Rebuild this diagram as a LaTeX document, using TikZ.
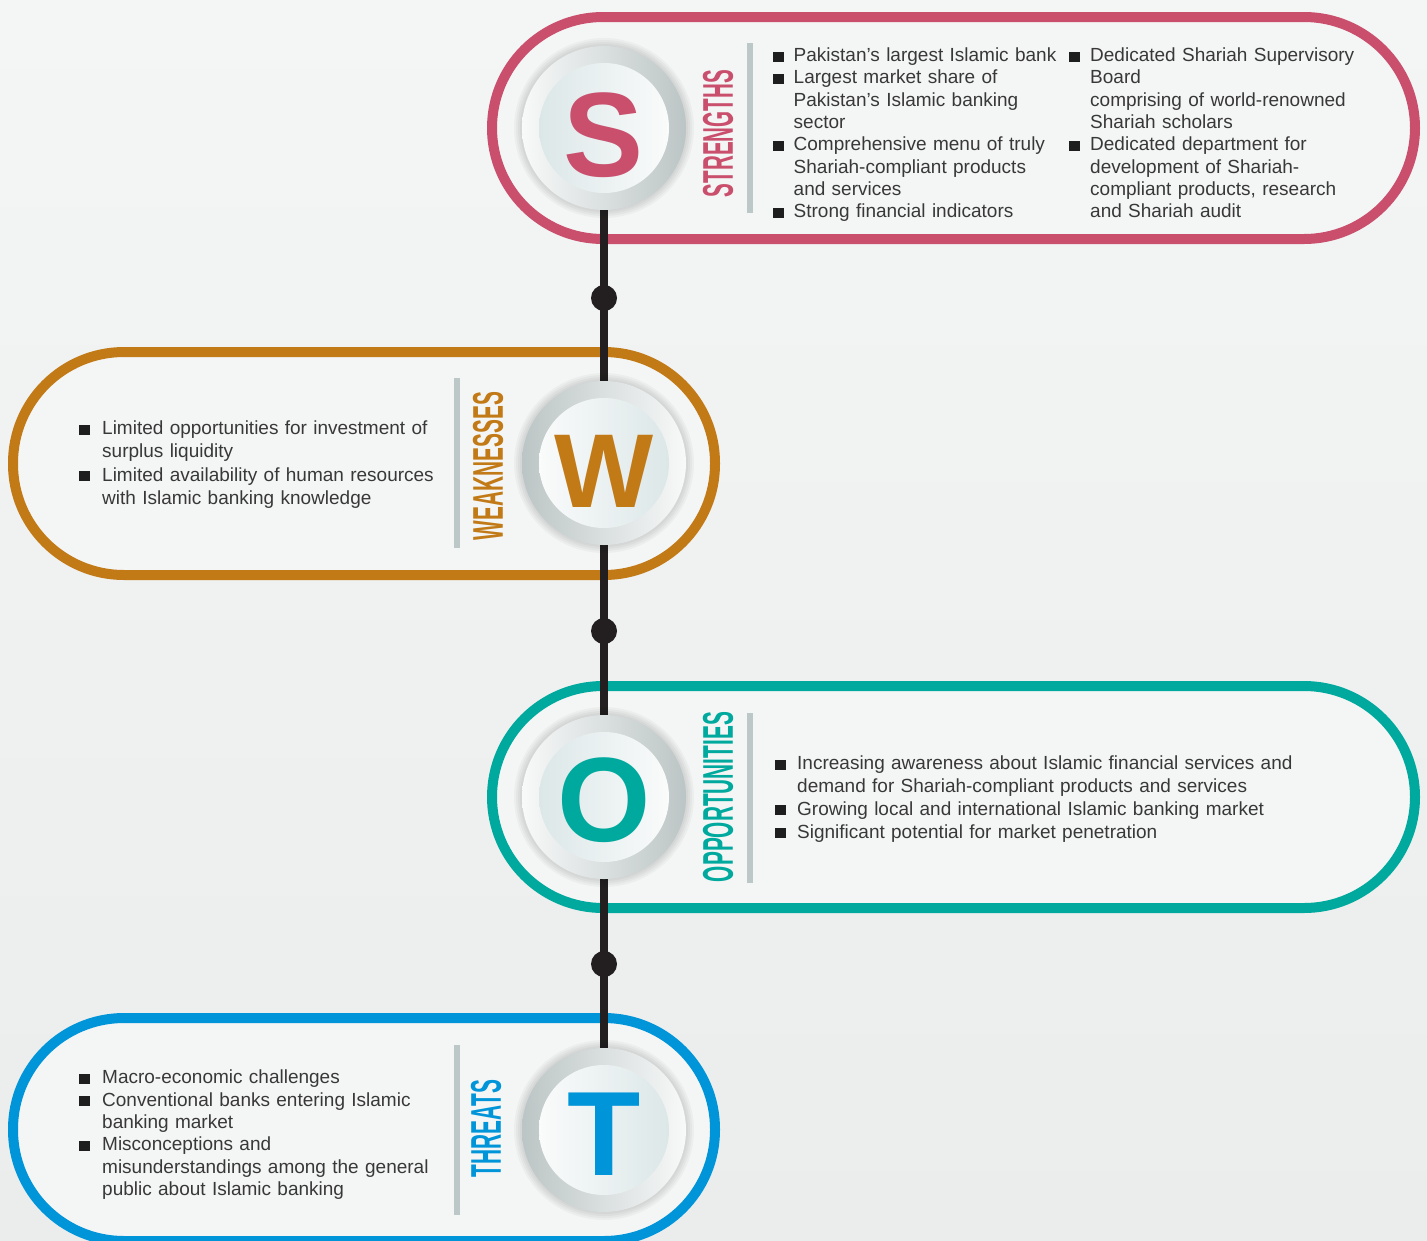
\documentclass[tikz,border=0pt]{standalone}
\usepackage{fontspec}
\setmainfont{Liberation Sans}
\usepackage{graphicx}
\definecolor{colS}{HTML}{C94F6D}
\definecolor{colW}{HTML}{C27A17}
\definecolor{colO}{HTML}{00A99D}
\definecolor{colT}{HTML}{0094D9}
\definecolor{barc}{HTML}{BCC7C7}
\definecolor{linec}{HTML}{231F20}
\definecolor{txt}{HTML}{383838}
\definecolor{bulc}{HTML}{1E1E1E}
\definecolor{bgtop}{HTML}{F4F5F5}
\definecolor{bgbot}{HTML}{EBEDED}
\definecolor{pillfill}{HTML}{F4F5F5}
\definecolor{ringlight}{HTML}{F8F9F9}
\definecolor{ringdark}{HTML}{BCC5C5}
\definecolor{innblue}{HTML}{DCE7E8}
\definecolor{innwhite}{HTML}{FAFBFB}
\newcommand{\bitem}[1]{\par\noindent\hangindent=#1\hangafter=1\makebox[#1][l]{\rule{0pt}{16pt}\textcolor{bulc}{\rule[0pt]{10.5pt}{10pt}}}\ignorespaces}
\tikzset{
  pill/.style={line width=10pt, fill=pillfill, rounded corners=111pt},
  ring/.style={circle, minimum size=164pt, inner sep=0pt},
  inner/.style={circle, minimum size=130pt, inner sep=0pt},
  letter/.style={inner sep=0pt, text depth=0pt, font=\bfseries},
  vlabel/.style={inner sep=0pt, rotate=90, font=\bfseries},
  dotnode/.style={circle, fill=linec, minimum size=26pt, inner sep=0pt},
  txtnode/.style={inner sep=0pt, anchor=north west, align=left, text=txt},
  bar/.style={barc, line width=5.5pt},
}
\begin{document}
\begin{tikzpicture}[x=1pt,y=-1pt]
\useasboundingbox (0,0) rectangle (1427,1240);
\fill[top color=bgtop, bottom color=bgbot] (0,0) rectangle (1427,1240);
% pills
\draw[pill, draw=colS] (492,17) rectangle (1415,239);
\draw[pill, draw=colW] (13,352) rectangle (715,575);
\draw[pill, draw=colO] (492,686) rectangle (1415,908);
\draw[pill, draw=colT] (13,1018) rectangle (715,1241);
% centres
\coordinate (pS) at (604,128);
\coordinate (pW) at (604,463);
\coordinate (pO) at (604,797);
\coordinate (pT) at (604,1130);
% spine
\draw[linec, line width=8pt] (pS) -- (pT);
\node[dotnode] (d1) at (604,298) {};
\node[dotnode] (d2) at (604,631) {};
\node[dotnode] (d3) at (604,964) {};
% shadows
\foreach \p in {pS,pW,pO,pT}{
  \foreach \k in {0,...,7}{
    \fill[black, opacity=0.03, shift={(9,13)}] (\p) circle [radius=76+2*\k];
  }
}
% discs
\node[ring, left color=ringlight, right color=ringdark] (rS) at (pS) {};
\node[inner, left color=innblue, right color=innwhite] (iS) at (pS) {};
\node[ring, left color=ringdark, right color=ringlight] (rW) at (pW) {};
\node[inner, left color=innwhite, right color=innblue] (iW) at (pW) {};
\node[ring, left color=ringlight, right color=ringdark] (rO) at (pO) {};
\node[inner, left color=innblue, right color=innwhite] (iO) at (pO) {};
\node[ring, left color=ringdark, right color=ringlight] (rT) at (pT) {};
\node[inner, left color=innwhite, right color=innblue] (iT) at (pT) {};
% letters
\node[letter, text=colS, text height=86pt, font=\fontsize{120}{120}\selectfont\bfseries] (lS) at (604,133) {S};
\node[letter, text=colW, text height=75pt, font=\fontsize{105}{105}\selectfont\bfseries] (lW) at (604,469.5) {W};
\node[letter, text=colO, text height=86pt, font=\fontsize{120}{120}\selectfont\bfseries] (lO) at (604,798) {O};
\node[letter, text=colT, text height=86pt, font=\fontsize{120}{120}\selectfont\bfseries] (lT) at (604,1132.5) {T};
% vertical labels
\node[vlabel, text=colS] (vS) at (718,133.5) {\resizebox{127pt}{30pt}{STRENGTHS}};
\node[vlabel, text=colW] (vW) at (488,466) {\resizebox{148pt}{30pt}{WEAKNESSES}};
\node[vlabel, text=colO] (vO) at (718,797) {\resizebox{170pt}{30pt}{OPPORTUNITIES}};
\node[vlabel, text=colT] (vT) at (486,1128.5) {\resizebox{97pt}{30pt}{THREATS}};
% bars
\draw[bar] (750,43) -- (750,213);
\draw[bar] (457,378) -- (457,548);
\draw[bar] (750,713) -- (750,883);
\draw[bar] (457,1045) -- (457,1215);
% texts
\node[txtnode, text width=296pt, font=\fontsize{19}{22.3}\selectfont] (tS1) at (773,39) {%
\bitem{20.5pt}Pakistan's largest Islamic bank
\bitem{20.5pt}Largest market share of\newline Pakistan's Islamic banking\newline sector
\bitem{20.5pt}Comprehensive menu of truly\newline Shariah-compliant products\newline and services
\bitem{20.5pt}Strong financial indicators\par};
\node[txtnode, text width=330pt, font=\fontsize{19}{22.3}\selectfont] (tS2) at (1069,39) {%
\bitem{21pt}Dedicated Shariah Supervisory\newline Board\newline comprising of world-renowned\newline Shariah scholars
\bitem{21pt}Dedicated department for\newline development of Shariah-\newline compliant products, research\newline and Shariah audit\par};
\node[txtnode, text width=360pt, font=\fontsize{19}{23.3}\selectfont] (tW) at (79,411) {%
\bitem{23pt}Limited opportunities for investment of\newline surplus liquidity
\bitem{23pt}Limited availability of human resources\newline with Islamic banking knowledge\par};
\node[txtnode, text width=560pt, font=\fontsize{19}{22.7}\selectfont] (tO) at (775,747) {%
\bitem{22pt}Increasing awareness about Islamic financial services and\newline demand for Shariah-compliant products and services
\bitem{22pt}Growing local and international Islamic banking market
\bitem{22pt}Significant potential for market penetration\par};
\node[txtnode, text width=360pt, font=\fontsize{19}{22.4}\selectfont] (tT) at (79,1061) {%
\bitem{23pt}Macro-economic challenges
\bitem{23pt}Conventional banks entering Islamic\newline banking market
\bitem{23pt}Misconceptions and\newline misunderstandings among the general\newline public about Islamic banking\par};
\end{tikzpicture}
\end{document}
